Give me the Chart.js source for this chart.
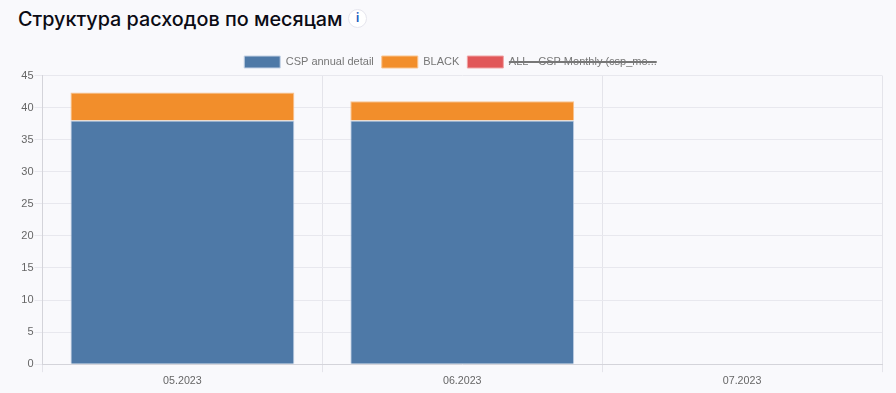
<!DOCTYPE html>
<html>
<head>
<meta charset="utf-8">
<title>Структура расходов по месяцам</title>
<script src="https://cdn.jsdelivr.net/npm/chart.js@4"></script>
<style>
    html, body { margin: 0; padding: 0; background: #f9f9fc; overflow: hidden; }
    #title {
        position: absolute; left: 18px; top: 7px;
        font: 500 19.8px Inter, Roboto, sans-serif; color: #0b0b14; white-space: nowrap;
    }
    #infoBadge {
        position: absolute; left: 348px; top: 9px; width: 19px; height: 19px;
        border-radius: 50%; background: #fff; border: 1px solid #e6e6ee; box-sizing: border-box;
        font: 700 12px/17px Roboto, sans-serif; color: #1f5fbf; text-align: center;
    }
    #chartBox { position: absolute; left: 0; top: 0; width: 896px; height: 393px; }
</style>
</head>
<body>
<div id="title">Структура расходов по месяцам</div>
<div id="infoBadge">i</div>
<div id="chartBox"><canvas id="costChart" width="896" height="393"></canvas></div>
<script>
const months = ["05.2023", "06.2023", "07.2023"];
const cspAnnual = [38, 38, 0];
const black = [4.35, 3, 0];
const allCspMonthly = [0, 0, 0];
const yMax = 45;
const yStep = 5;

// legend sits closer to the plot than its own padding allows
const tightLegend = {
    id: "tightLegend",
    beforeInit(chart) {
        const fit = chart.legend.fit;
        chart.legend.fit = function () {
            fit.call(this);
            this.height -= 2.5;
        };
    },
};

document.addEventListener("DOMContentLoaded", () => {
    new Chart(document.getElementById("costChart"), {
        type: "bar",
        plugins: [tightLegend],
        data: {
            labels: months,
            datasets: [
                { label: "CSP annual detail", data: cspAnnual, backgroundColor: "#4e79a7", borderColor: "#c5d3e6", borderWidth: 1 },
                { label: "BLACK", data: black, backgroundColor: "#f28e2b", borderColor: "#f9c48f", borderWidth: 1 },
                { label: "ALL - CSP Monthly (csp_mo...", data: allCspMonthly, backgroundColor: "#e15759", borderColor: "#f0a5a6", borderWidth: 1, hidden: true },
            ],
        },
        options: {
            responsive: false,
            animation: false,
            layout: { padding: { top: 48, left: 19, right: 14, bottom: 4 } },
            datasets: { bar: { categoryPercentage: 1, barPercentage: 0.8 } },
            plugins: {
                tooltip: { enabled: false },
                legend: {
                    position: "top",
                    labels: { boxWidth: 36, boxHeight: 12, padding: 8, color: "#777", font: { family: "Liberation Sans", size: 11 } },
                },
            },
            scales: {
                x: {
                    stacked: true,
                    grid: { color: "#e4e4ea", tickLength: 8 },
                    border: { color: "#d4d4da" },
                    ticks: { padding: 2, color: "#666", font: { family: "Liberation Sans", size: 10.7 } },
                },
                y: {
                    stacked: true,
                    min: 0,
                    max: yMax,
                    grid: { color: "#e8e8ee", tickLength: 8 },
                    border: { color: "#d4d4da" },
                    ticks: { stepSize: yStep, padding: 1, color: "#666", font: { family: "Liberation Sans", size: 11 } },
                    afterFit(axis) {
                        axis.width = 23.5;
                    },
                },
            },
        },
    });
});
</script>
</body>
</html>
